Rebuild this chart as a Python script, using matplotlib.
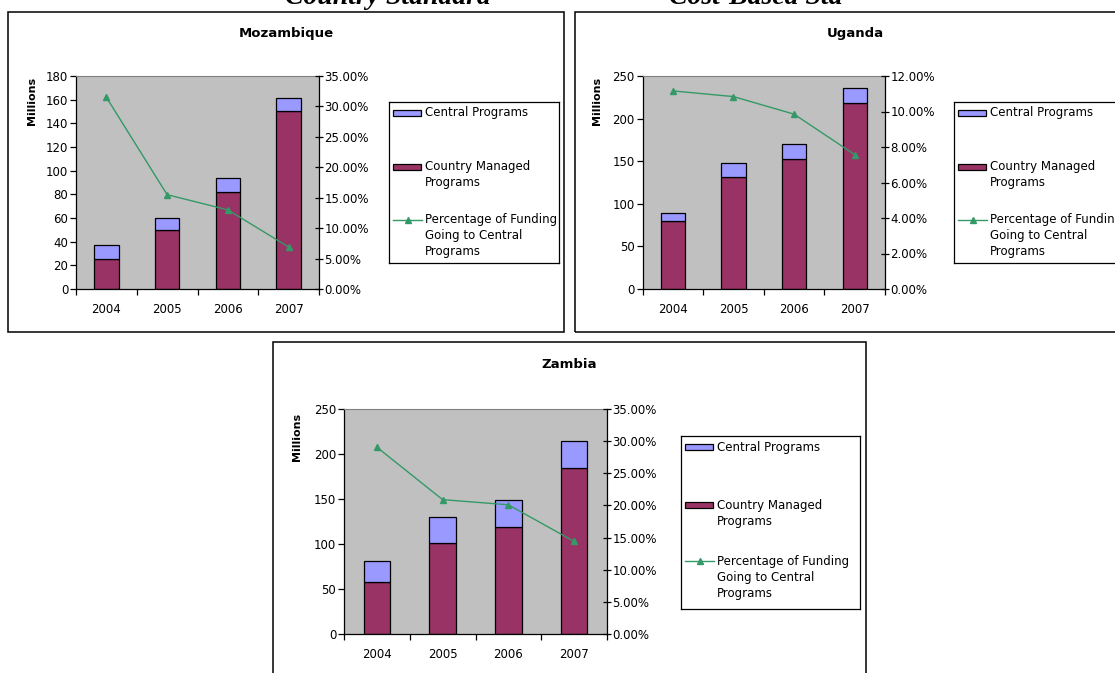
import numpy as np
import matplotlib
matplotlib.use("Agg")
import matplotlib.pyplot as plt
from matplotlib.patches import Rectangle
from matplotlib.lines import Line2D
from matplotlib.ticker import FuncFormatter, MultipleLocator

plt.rcParams['font.family'] = ['DejaVu Sans']

W, H = 1115, 673

years = ['2004', '2005', '2006', '2007']

# millions
moz_country = [25.3, 50.0, 81.7, 150.3]
moz_central = [12.1, 9.6, 12.1, 11.2]
moz_pct = [0.315, 0.155, 0.130, 0.069]

uga_country = [80.3, 131.4, 152.9, 218.4]
uga_central = [9.4, 16.8, 16.8, 17.6]
uga_pct = [0.1116, 0.1084, 0.0985, 0.0757]

zam_country = [58.0, 101.6, 118.9, 183.9]
zam_central = [23.6, 28.0, 29.9, 31.0]
zam_pct = [0.2906, 0.209, 0.201, 0.144]

legend_labels = ['Central Programs',
                 'Country Managed\nPrograms',
                 'Percentage of Funding\nGoing to Central\nPrograms']

C_CENTRAL = '#9999FF'
C_COUNTRY = '#993366'
C_LINE = '#339966'


def fx(x):
    return x / W


def fy(y):
    return 1 - y / H


def rect_px(x0, y0, x1, y1):
    return [fx(x0), fy(y1), (x1 - x0) / W, (y1 - y0) / H]


def frame(x0, y0, x1, y1):
    fig.add_artist(Rectangle((fx(x0), fy(y1)), (x1 - x0) / W, (y1 - y0) / H,
                             transform=fig.transFigure, fill=False,
                             edgecolor='black', lw=1.1))


def legend_box(x0, y0, x1, y1, rows):
    lax = fig.add_axes(rect_px(x0, y0, x1, y1))
    w, h = x1 - x0, y1 - y0
    lax.set_xlim(0, w)
    lax.set_ylim(h, 0)
    lax.set_xticks([])
    lax.set_yticks([])
    for s in lax.spines.values():
        s.set_linewidth(0.9)
    handles = [C_CENTRAL, C_COUNTRY, None]
    for lab, r, col in zip(legend_labels, rows, handles):
        if col is None:
            lax.add_line(Line2D([4, 33], [r, r], color=C_LINE, lw=1))
            lax.plot([18.5], [r], marker='^', color=C_LINE, ms=5)
        else:
            lax.add_patch(Rectangle((4, r - 3), 28, 6, facecolor=col,
                                    edgecolor='black', lw=0.9))
        for k, line in enumerate(lab.split('\n')):
            lax.text(36, r + 16 * k, line, va='center', ha='left', fontsize=8.5)


def chart(ax_px, title, title_xy, ylab_xy, country, central, pct,
          ymax, ystep, pmax, pstep):
    ax = fig.add_axes(rect_px(*ax_px))
    x = np.arange(len(years))
    ax.set_facecolor('#C0C0C0')
    ax.bar(x, country, width=0.4, color=C_COUNTRY, edgecolor='black', lw=0.9)
    ax.bar(x, central, width=0.4, bottom=country, color=C_CENTRAL,
           edgecolor='black', lw=0.9)
    ax.set_xlim(-0.5, len(years) - 0.5)
    ax.set_ylim(0, ymax)
    ax.yaxis.set_major_locator(MultipleLocator(ystep))
    ax.set_xticks(np.arange(len(years) + 1) - 0.5)
    ax.set_xticklabels([])
    ax.set_xticks(x, minor=True)
    ax.set_xticklabels(years, minor=True)
    ax.tick_params(axis='x', which='major', direction='out', length=4, width=0.9)
    ax.tick_params(axis='x', which='minor', length=0, pad=10, labelsize=8.5)
    ax.tick_params(axis='y', direction='out', length=4, width=0.9, pad=1.5,
                   labelsize=8.5)
    ax.spines['top'].set_color('#808080')
    ax.spines['top'].set_linewidth(0.8)
    ax.spines['right'].set_visible(False)
    ax.spines['left'].set_linewidth(0.9)
    ax.spines['bottom'].set_linewidth(0.9)

    ax2 = ax.twinx()
    ax2.plot(x, pct, color=C_LINE, lw=1, marker='^', ms=5)
    ax2.set_ylim(0, pmax)
    ax2.yaxis.set_major_locator(MultipleLocator(pstep))
    ax2.yaxis.set_major_formatter(FuncFormatter(lambda v, _: f'{v * 100:.2f}%'))
    ax2.tick_params(axis='y', direction='inout', length=6, width=0.9, pad=1,
                    labelsize=8.5)
    for s in ('top', 'left', 'bottom'):
        ax2.spines[s].set_visible(False)
    ax2.spines['right'].set_linewidth(0.9)

    fig.text(fx(title_xy[0]), fy(title_xy[1]), title, ha='center', va='center',
             fontsize=9.5, fontweight='bold')
    fig.text(fx(ylab_xy[0]), fy(ylab_xy[1]), 'Millions', ha='center',
             va='center', rotation=90, fontsize=8, fontweight='bold')


fig = plt.figure(figsize=(W / 100, H / 100), dpi=100)

# page headings above the charts, mostly cut off at the top edge
fig.text(fx(388), fy(4), 'Country Standard', ha='center', va='baseline',
         fontsize=20, family='Liberation Serif', fontweight='bold',
         style='italic')
fig.text(fx(756), fy(4), 'Cost-Based Sta', ha='center', va='baseline',
         fontsize=20, family='Liberation Serif', fontweight='bold',
         style='italic')

# Mozambique
frame(8, 12, 564, 332)
chart((76, 76, 319, 289), 'Mozambique', (286, 33), (32, 101),
      moz_country, moz_central, moz_pct, 180, 20, 0.35, 0.05)
legend_box(389, 102, 559, 263, [11, 65, 118])

# Uganda
frame(575, 12, 1135, 332)
chart((642.5, 76, 885, 289), 'Uganda', (855, 33), (597, 101),
      uga_country, uga_central, uga_pct, 250, 50, 0.12, 0.02)
legend_box(954, 102, 1124, 263, [11, 65, 118])

# Zambia
frame(273, 342, 866, 680)
chart((344, 409, 607, 634), 'Zambia', (569, 365), (297, 437),
      zam_country, zam_central, zam_pct, 250, 50, 0.35, 0.05)
legend_box(681, 436, 860, 609, [11, 69, 125])

fig.savefig('out.png', dpi=100)
